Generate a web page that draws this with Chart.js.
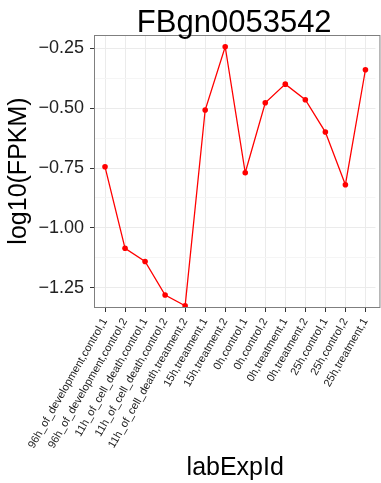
<!DOCTYPE html>
<html>
  <head>
    <title>FBgn0053542</title>
    <style>
      html, body { margin: 0; padding: 0; background: #fff; }
      #wrap { width: 381px; height: 483px; }
    </style>
  </head>
  <body>
    <script src="https://cdn.jsdelivr.net/npm/chart.js"></script>

    <div id="wrap"><canvas id="myChart"></canvas></div>

    <script>
      // data
      const labels = [
        '96h_of_development,control,1',
        '96h_of_development,control,2',
        '11h_of_cell_death,control,1',
        '11h_of_cell_death,control,2',
        '11h_of_cell_death,treatment,2',
        '15h,treatment,1',
        '15h,treatment,2',
        '0h,control,1',
        '0h,control,2',
        '0h,treatment,1',
        '0h,treatment,2',
        '25h,control,1',
        '25h,control,2',
        '25h,treatment,1'
      ];
      const logFpkm = [-0.745, -1.085, -1.14, -1.28, -1.325, -0.508, -0.244, -0.77, -0.478, -0.40, -0.465, -0.60, -0.82, -0.34];
      const yMajorTicks = [-1.25, -1.00, -0.75, -0.50, -0.25];
      const yMin = -1.33;
      const yMax = -0.195;

      const font = "'Liberation Sans', Arial, sans-serif";

      // title centred over the panel, plus the grey panel border
      const panelPlugin = {
        id: 'panel',
        afterDraw(chart) {
          const {ctx, chartArea} = chart;
          ctx.save();
          ctx.strokeStyle = '#7f7f7f';
          ctx.lineWidth = 1;
          ctx.strokeRect(chartArea.left - 0.5, chartArea.top + 0.5, chartArea.right - chartArea.left + 5, chartArea.bottom - chartArea.top);
          ctx.fillStyle = '#000';
          ctx.font = '31px ' + font;
          ctx.textAlign = 'center';
          ctx.textBaseline = 'alphabetic';
          ctx.fillText('FBgn0053542', (chartArea.left + chartArea.right) / 2 - 1, 32);
          ctx.restore();
        }
      };

      const ctx = document.getElementById('myChart').getContext('2d');
      const chart = new Chart(ctx, {
        type: 'line',
        data: {
          labels: labels,
          datasets: [{
            label: 'log10(FPKM)',
            data: logFpkm,
            borderColor: '#ff0000',
            backgroundColor: '#ff0000',
            borderWidth: 1.3,
            pointRadius: 2.8,
            pointBorderWidth: 0,
            tension: 0
          }]
        },
        options: {
          responsive: true,
          maintainAspectRatio: false,
          animation: false,
          layout: { padding: { top: 35, right: 0, left: 0, bottom: 0 } },
          plugins: {
            legend: { display: false },
            tooltip: { enabled: false }
          },
          scales: {
            x: {
              offset: true,
              afterFit: (scale) => { scale.height = 176; },
              grid: { color: '#ebebeb', tickColor: '#333', tickLength: 5, lineWidth: 1 },
              border: { display: false },
              ticks: {
                color: '#222',
                font: { family: font, size: 11 },
                minRotation: 60,
                maxRotation: 60,
                padding: 4,
                autoSkip: false
              },
              title: {
                display: true,
                text: 'labExpId',
                color: '#000',
                font: { family: font, size: 25, lineHeight: 1 },
                padding: { top: 0, bottom: 2 }
              }
            },
            y: {
              min: yMin,
              max: yMax,
              afterFit: (scale) => { scale.width = 95; },
              afterBuildTicks: (scale) => {
                const ticks = [];
                yMajorTicks.forEach((v, i) => {
                  ticks.push({ value: v });
                  if (i < yMajorTicks.length - 1) ticks.push({ value: (v + yMajorTicks[i + 1]) / 2, minor: true });
                });
                scale.ticks = ticks;
              },
              grid: {
                color: (c) => (c.tick && c.tick.minor) ? '#f5f5f5' : '#ebebeb',
                tickColor: (c) => (c.tick && c.tick.minor) ? 'rgba(0,0,0,0)' : '#333',
                tickLength: 5,
                lineWidth: 1
              },
              border: { display: false },
              ticks: {
                color: '#222',
                font: { family: font, size: 18 },
                padding: 6,
                callback: (value, index, ticks) => ticks[index].minor ? '' : '\u2212' + Math.abs(value).toFixed(2)
              },
              title: {
                display: true,
                text: 'log10(FPKM)',
                color: '#000',
                font: { family: font, size: 25, lineHeight: 1 },
                padding: { top: 7, bottom: 0 }
              }
            }
          }
        },
        plugins: [panelPlugin]
      });
    </script>
  </body>
</html>
